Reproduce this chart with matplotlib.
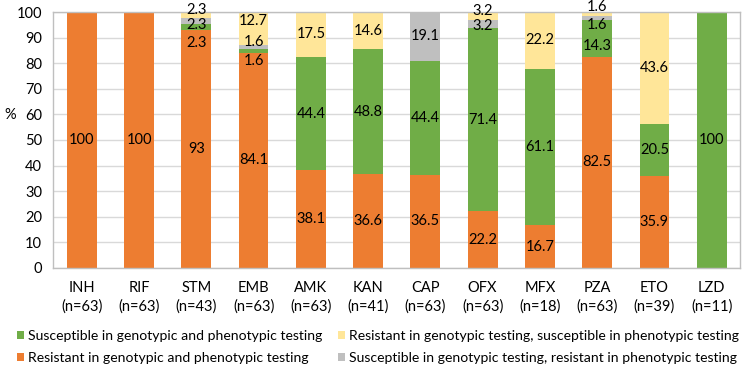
import matplotlib
matplotlib.use("Agg")
import matplotlib.pyplot as plt
import numpy as np

drugs = ["INH", "RIF", "STM", "EMB", "AMK", "KAN", "CAP", "OFX", "MFX", "PZA", "ETO", "LZD"]
n_isolates = [63, 63, 43, 63, 63, 41, 63, 63, 18, 63, 39, 11]

resistant_both = [100, 100, 93, 84.1, 38.1, 36.6, 36.5, 22.2, 16.7, 82.5, 35.9, 0]
susceptible_both = [0, 0, 2.3, 1.6, 44.4, 48.8, 44.4, 71.4, 61.1, 14.3, 20.5, 100]
susceptible_geno_resistant_pheno = [0, 0, 2.3, 1.6, 0, 0, 19.1, 3.2, 0, 1.6, 0, 0]
resistant_geno_susceptible_pheno = [0, 0, 2.3, 12.7, 17.5, 14.6, 0, 3.2, 22.2, 1.6, 43.6, 0]

legend_labels = [
    "Susceptible in genotypic and phenotypic testing",
    "Resistant in genotypic and phenotypic testing",
    "Resistant in genotypic testing, susceptible in phenotypic testing",
    "Susceptible in genotypic testing, resistant in phenotypic testing",
]

# label nudges (in % units) for the thin segments, as placed in the original
nudge = {
    (2, 1): -6.2, (2, 2): -1.5, (2, 3): 2.0,
    (3, 1): -3.9, (3, 2): 1.8, (3, 3): 3.0,
    (7, 2): -0.6, (7, 3): 2.1,
    (9, 1): -3.0, (9, 2): -2.7, (9, 3): 2.9,
}

plt.rcParams['font.family'] = ['Lato', 'DejaVu Sans']

fig = plt.figure(figsize=(7.44, 3.65), dpi=100)
ax = fig.add_axes([0.0715, 0.266, 0.9235, 0.701])

x = np.arange(len(drugs))
series = [resistant_both, susceptible_both,
          susceptible_geno_resistant_pheno, resistant_geno_susceptible_pheno]
colors = ["#ED7D31", "#70AD47", "#BFBFBF", "#FFE699"]
width = 0.52

bottom = np.zeros(len(drugs))
handles = []
for s, (vals, col) in enumerate(zip(series, colors)):
    vals = np.array(vals, dtype=float)
    h = ax.bar(x, vals, width, bottom=bottom, color=col, zorder=2)
    handles.append(h)
    for i, v in enumerate(vals):
        if v <= 0:
            continue
        y = bottom[i] + v / 2 + nudge.get((i, s), 0)
        ax.text(x[i], y, f"{v:g}", ha="center", va="center",
                fontsize=10.5, color="#000000", zorder=3, clip_on=False)
    bottom += vals

ax.set_xlim(-0.5, len(drugs) - 0.5)
ax.set_ylim(0, 100)
ax.set_yticks(np.arange(0, 101, 10))
ax.set_xticks(x)
ax.set_xticklabels([f"{d}\n(n={n})" for d, n in zip(drugs, n_isolates)],
                   fontsize=10.5, linespacing=1.38)
ax.tick_params(axis="both", length=0, colors="#000000")
ax.tick_params(axis="y", labelsize=10.5, pad=8)
ax.tick_params(axis="x", pad=9.5)
ax.grid(axis="y", color="#D9D9D9", linewidth=1, zorder=0)
for side in ["left", "right", "top", "bottom"]:
    ax.spines[side].set_color("#BFBFBF")
    ax.spines[side].set_linewidth(1)

ax.set_ylabel("%", rotation=0, fontsize=10.5)
ax.yaxis.set_label_coords(-0.063, 0.57)

order = [1, 0, 3, 2]
fig.legend([handles[k] for k in order], legend_labels, ncol=2,
           loc="upper left", bbox_to_anchor=(0.0228, 0.096),
           frameon=False, fontsize=10.1, handlelength=0.5, handleheight=0.5,
           handletextpad=0.3, columnspacing=1.1, labelspacing=0.7,
           borderaxespad=0, borderpad=0)

fig.savefig("out.png", dpi=100)
